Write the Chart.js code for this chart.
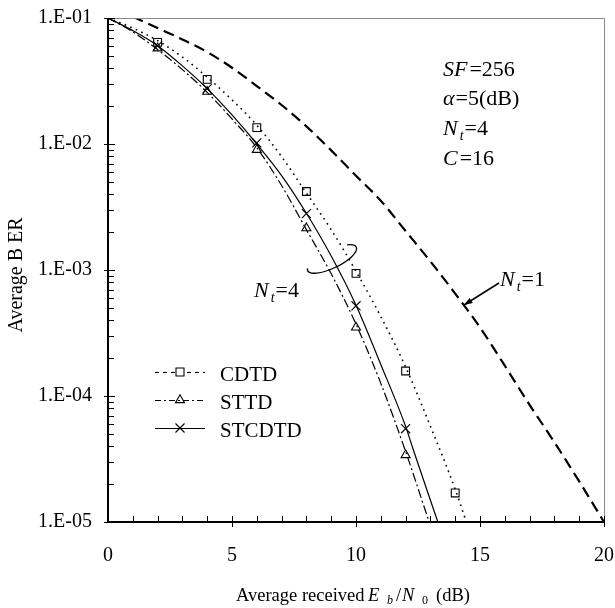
<!DOCTYPE html>
<html>
<head>
<meta charset="utf-8">
<script src="https://cdn.jsdelivr.net/npm/chart.js@4.4.1/dist/chart.umd.min.js"></script>
<style>
html,body{margin:0;padding:0;background:#fff;}
canvas{display:block;}
</style>
</head>
<body>
<canvas id="c" width="615" height="608"></canvas>
<script>
// ---------------- data ----------------
const xTickValues = [0, 5, 10, 15, 20];
const yTickValues = [1e-5, 1e-4, 1e-3, 1e-2, 1e-1];
const yTickLabels = ['1.E-05', '1.E-04', '1.E-03', '1.E-02', '1.E-01'];

// N_t = 1 curve (dashed)
const nt1X = [1, 2, 3, 4, 5, 6, 7, 8, 9, 10, 11, 12, 13, 14, 15, 16, 17, 18, 19, 20];
const nt1Y = [0.1023, 0.0832, 0.0676, 0.0537, 0.0403, 0.0288, 0.0204, 0.0138, 0.0089, 0.0056,
              0.00355, 0.00204, 0.00117, 6.5e-4, 3.5e-4, 1.74e-4, 8.5e-5, 4.3e-5, 2.1e-5, 1.0e-5];

// CDTD curve (dotted) and markers (squares)
const cdtdX = [0, 1, 2, 3, 4, 5, 6, 7, 8, 9, 10, 11, 12, 13, 14, 14.45];
const cdtdY = [0.1, 0.0832, 0.0661, 0.0490, 0.0339, 0.0224, 0.0141, 0.00794, 0.00407, 0.00209,
               0.000977, 0.000427, 0.00017, 5.75e-5, 1.82e-5, 1.0e-5];
const cdtdMarkX = [2, 4, 6, 8, 10, 12, 14];
const cdtdMarkY = [0.064, 0.0326, 0.0135, 0.0042, 0.00094, 0.000158, 1.7e-5];

// STTD curve (dash-dot) and markers (triangles)
const sttdX = [0, 1, 2, 3, 4, 5, 6, 7, 8, 9, 10, 11, 12, 12.95];
const sttdY = [0.1, 0.0776, 0.0562, 0.0389, 0.0257, 0.0158, 0.00933, 0.00468, 0.00209, 0.000933,
               0.000372, 0.000126, 3.63e-5, 1.0e-5];
const sttdMarkX = [2, 4, 6, 8, 10, 12];
const sttdMarkY = [0.0575, 0.026, 0.009, 0.00215, 0.00035, 3.4e-5];

// STCDTD curve (solid) and markers (crosses)
const stcX = [0, 1, 2, 3, 4, 5, 6, 7, 8, 9, 10, 11, 12, 12.3, 13.3];
const stcY = [0.1, 0.0794, 0.0603, 0.0417, 0.0275, 0.0170, 0.0100, 0.00562, 0.00282, 0.00129,
              0.000525, 0.000178, 5.75e-5, 3.8e-5, 1.0e-5];
const stcMarkX = [2, 4, 6, 8, 10, 12];
const stcMarkY = [0.06, 0.0275, 0.0102, 0.0028, 0.00052, 5.5e-5];

const legendNames = ['CDTD', 'STTD', 'STCDTD'];

// ---------------- helpers ----------------
const pts = (xs, ys) => xs.map((x, i) => ({x: x, y: ys[i]}));
const SERIF = "'Liberation Serif', 'Times New Roman', serif";

function drawRich(ctx, x, y, segs, size) {
  let cx = x;
  ctx.textBaseline = 'alphabetic';
  ctx.textAlign = 'left';
  for (const s of segs) {
    const fs = s.sub ? Math.round(size * 0.65) : size;
    ctx.font = (s.it ? 'italic ' : '') + fs + 'px ' + SERIF;
    if (s.at !== undefined) cx = s.at;
    cx += (s.pre || 0);
    ctx.fillText(s.t, cx, y + (s.sub ? (s.dy !== undefined ? s.dy : size * 0.22) : 0));
    cx += ctx.measureText(s.t).width + (s.post || 0);
  }
  return cx;
}

function drawMarker(ctx, style, x, y) {
  ctx.save();
  ctx.setLineDash([]);
  ctx.lineWidth = 1.1;
  ctx.strokeStyle = '#000';
  ctx.beginPath();
  if (style === 'rect') {
    ctx.rect(x - 4, y - 4, 8, 8);
  } else if (style === 'triangle') {
    const r = 5.2;
    ctx.moveTo(x, y - r);
    ctx.lineTo(x + r * 0.866, y + r * 0.5);
    ctx.lineTo(x - r * 0.866, y + r * 0.5);
    ctx.closePath();
  } else {
    const d = 4.5;
    ctx.moveTo(x - d, y - d); ctx.lineTo(x + d, y + d);
    ctx.moveTo(x + d, y - d); ctx.lineTo(x - d, y + d);
  }
  ctx.stroke();
  ctx.restore();
}

// ---------------- decorations plugin ----------------
const deco = {
  id: 'deco',
  afterDraw(chart) {
    const ctx = chart.ctx;
    const xs = chart.scales.x, ys = chart.scales.y;
    const L = xs.left, R = xs.right, T = ys.top, B = ys.bottom;
    ctx.save();
    // frame: top & right gray
    ctx.strokeStyle = '#8a8a8a';
    ctx.lineWidth = 1;
    ctx.beginPath();
    ctx.moveTo(L, T + 0.5); ctx.lineTo(R + 0.5, T + 0.5); ctx.lineTo(R + 0.5, B);
    ctx.stroke();
    // left & bottom black
    ctx.strokeStyle = '#000';
    ctx.lineWidth = 2;
    ctx.beginPath();
    ctx.moveTo(L, T); ctx.lineTo(L, B); ctx.lineTo(R + 1, B);
    ctx.stroke();
    // y ticks
    ctx.lineWidth = 1;
    for (let e = -5; e <= -1; e++) {
      for (let m = 1; m <= 9; m++) {
        const v = m * Math.pow(10, e);
        if (v > 0.1000001) continue;
        const py = Math.round(ys.getPixelForValue(v)) + 0.5;
        ctx.beginPath();
        if (m === 1) { ctx.moveTo(L - 4, py); ctx.lineTo(L + 7, py); }
        else { ctx.moveTo(L, py); ctx.lineTo(L + 6, py); }
        ctx.stroke();
      }
    }
    // x ticks
    for (let v = 1; v <= 20; v++) {
      const px = Math.round(xs.getPixelForValue(v)) + 0.5;
      ctx.beginPath();
      if (v % 5 === 0) { ctx.moveTo(px, B - 6); ctx.lineTo(px, B + 5); }
      else { ctx.moveTo(px, B - 6); ctx.lineTo(px, B); }
      ctx.stroke();
    }
    ctx.fillStyle = '#000';
    // axis titles
    drawRich(ctx, 236, 601, [
      {t: 'Average received '},
      {t: 'E', it: true, at: 368},
      {t: 'b', it: true, sub: true, at: 387, dy: 3},
      {t: '/', at: 396},
      {t: 'N', it: true, at: 402},
      {t: '0', sub: true, at: 422, dy: 3},
      {t: '(dB)', at: 436}
    ], 18.5);
    ctx.save();
    ctx.translate(17, 275);
    ctx.rotate(-Math.PI / 2);
    ctx.font = '20px ' + SERIF;
    ctx.textAlign = 'center';
    ctx.textBaseline = 'middle';
    ctx.fillText('Average B ER', 0, 0);
    ctx.restore();

    // parameter annotations
    drawRich(ctx, 443, 76, [{t: 'SF', it: true, post: 2}, {t: '=256'}], 22);
    drawRich(ctx, 443, 105, [{t: 'α', it: true, post: 1}, {t: '=5(dB)'}], 22);
    drawRich(ctx, 443, 135, [{t: 'N', it: true, post: 2}, {t: 't', it: true, sub: true, post: 1}, {t: '=4'}], 22);
    drawRich(ctx, 443, 165, [{t: 'C', it: true, post: 2}, {t: '=16'}], 22);

    // N_t=4 label and ellipse
    drawRich(ctx, 254, 297, [{t: 'N', it: true, post: 2}, {t: 't', it: true, sub: true, post: 1}, {t: '=4'}], 22);
    ctx.strokeStyle = '#000';
    ctx.lineWidth = 1.3;
    ctx.setLineDash([]);
    ctx.beginPath();
    ctx.ellipse(332, 259, 27, 9, -0.45, -0.75, 3.4, false);
    ctx.stroke();

    // N_t=1 label and arrow
    drawRich(ctx, 500, 286, [{t: 'N', it: true, post: 2}, {t: 't', it: true, sub: true, post: 1}, {t: '=1'}], 22);
    const ax0 = 499, ay0 = 283, ax1 = 464, ay1 = 305;
    ctx.lineWidth = 1.5;
    ctx.beginPath(); ctx.moveTo(ax0, ay0); ctx.lineTo(ax1, ay1); ctx.stroke();
    const ang = Math.atan2(ay1 - ay0, ax1 - ax0);
    ctx.beginPath();
    ctx.moveTo(ax1, ay1);
    ctx.lineTo(ax1 - 9 * Math.cos(ang - 0.35), ay1 - 9 * Math.sin(ang - 0.35));
    ctx.lineTo(ax1 - 9 * Math.cos(ang + 0.35), ay1 - 9 * Math.sin(ang + 0.35));
    ctx.closePath();
    ctx.fill();

    // legend
    const legY = [372, 400, 428];
    const legDash = [[4, 4], [6, 3, 2, 3], []];
    const legMark = ['rect', 'triangle', 'cross'];
    for (let i = 0; i < 3; i++) {
      ctx.strokeStyle = '#000';
      ctx.lineWidth = 1.1;
      ctx.setLineDash(legDash[i]);
      ctx.beginPath(); ctx.moveTo(155, legY[i] + 0.5); ctx.lineTo(205, legY[i] + 0.5); ctx.stroke();
      ctx.setLineDash([]);
      if (i === 0) { ctx.fillStyle = '#fff'; ctx.fillRect(176, legY[i] - 4, 8, 8); ctx.fillStyle = '#000'; }
      drawMarker(ctx, legMark[i], 180, legY[i]);
      ctx.font = '21px ' + SERIF;
      ctx.textAlign = 'left';
      ctx.textBaseline = 'alphabetic';
      ctx.fillText(legendNames[i], 220, legY[i] + 9);
    }
    ctx.restore();
  }
};

// ---------------- chart ----------------
const lineDs = (label, xs, ys, dash, w) => ({
  label: label, data: pts(xs, ys), borderColor: '#000', borderWidth: w, borderDash: dash,
  pointRadius: 0, fill: false, cubicInterpolationMode: 'monotone', showLine: true
});
const markDs = (label, xs, ys, style, r) => ({
  label: label, data: pts(xs, ys), showLine: false, borderColor: '#000', backgroundColor: 'rgba(255,255,255,0)',
  pointStyle: style, pointRadius: r, pointBorderWidth: 1.1, pointHoverRadius: r
});

new Chart(document.getElementById('c'), {
  type: 'scatter',
  data: {
    datasets: [
      lineDs('N_t=1', nt1X, nt1Y, [11, 6], 2.2),
      lineDs('CDTD line', cdtdX, cdtdY, [1.6, 4.4], 1.6),
      lineDs('STTD line', sttdX, sttdY, [9, 3, 2, 3], 1.2),
      lineDs('STCDTD line', stcX, stcY, [], 1.2),
      markDs('CDTD', cdtdMarkX, cdtdMarkY, 'rect', 5.5),
      markDs('STTD', sttdMarkX, sttdMarkY, 'triangle', 5.2),
      markDs('STCDTD', stcMarkX, stcMarkY, 'crossRot', 6.4)
    ]
  },
  options: {
    responsive: false,
    animation: false,
    devicePixelRatio: 1,
    layout: {padding: {top: 18, right: 11, left: 0, bottom: 0}},
    plugins: {legend: {display: false}, tooltip: {enabled: false}},
    scales: {
      x: {
        type: 'linear', min: 0, max: 20,
        grid: {display: false, drawTicks: false},
        border: {display: false},
        ticks: {color: '#000', font: {family: SERIF, size: 20}, padding: 22, maxRotation: 0,
                callback: v => String(v)},
        afterBuildTicks: s => { s.ticks = xTickValues.map(v => ({value: v})); },
        afterFit: s => { s.height = 86; s.paddingLeft = 0; s.paddingRight = 0; }
      },
      y: {
        type: 'logarithmic', min: 1e-5, max: 1e-1,
        grid: {display: false, drawTicks: false},
        border: {display: false},
        ticks: {color: '#000', font: {family: SERIF, size: 20}, padding: 16,
                callback: v => {
                  const i = yTickValues.findIndex(t => Math.abs(Math.log10(t) - Math.log10(v)) < 1e-6);
                  return i >= 0 ? yTickLabels[i] : '';
                }},
        afterBuildTicks: s => { s.ticks = yTickValues.map(v => ({value: v})); },
        afterFit: s => { s.width = 108; s.paddingTop = 0; s.paddingBottom = 0; }
      }
    }
  },
  plugins: [deco]
});
</script>
</body>
</html>
